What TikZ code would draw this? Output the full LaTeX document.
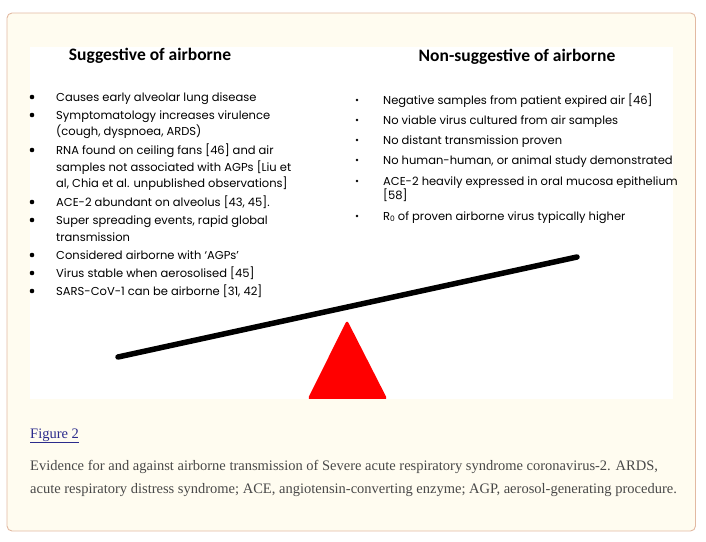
\documentclass[tikz,border=0pt]{standalone}
\usepackage{fontspec}
\setmainfont{Liberation Serif}
\newfontfamily\headfont{Carlito}
\newfontfamily\listfont{Poppins}
\definecolor{boxedge}{HTML}{E2B9A2}
\definecolor{boxfill}{HTML}{FFFCF0}
\definecolor{linkblue}{HTML}{2B2B8C}
\definecolor{captiongray}{HTML}{484848}
\tikzset{
  heading/.style={font=\headfont\bfseries\fontsize{17.5}{20}\selectfont, inner sep=0pt},
  item/.style={anchor=base west, inner sep=0pt, font=\listfont\fontsize{11.5}{13}\selectfont},
  caption/.style={anchor=base west, inner sep=0pt, text=captiongray, font=\fontsize{14.5}{16}\selectfont}
}
\begin{document}
\begin{tikzpicture}[x=1pt, y=-1pt]
    \useasboundingbox (0,0) rectangle (706,541);
    \draw[boxedge, line width=0.9pt, fill=boxfill, rounded corners=5pt] (7,13) rectangle (695.5,531);
    \fill[white] (30,47) rectangle (673,399);

    % left list
    \node[heading] (lefthead) at (150,56) {Suggestive of airborne};
    \foreach \y in {97,115,150,202,220,255,273,291}
        \fill (32,\y) circle [radius=2.3];
    \node[item] (l1) at (56,101) {Causes early alveolar lung disease};
    \node[item] (l2) at (56,119) {Symptomatology increases virulence};
    \node[item] (l2b) at (56,135) {(cough, dyspnoea, ARDS)};
    \node[item] (l3) at (56,154) {RNA found on ceiling fans [46] and air};
    \node[item] (l3b) at (56,171) {samples not associated with AGPs [Liu et};
    \node[item] (l3c) at (56,187) {al, Chia et al. unpublished observations]};
    \node[item] (l4) at (56,206) {ACE-2 abundant on alveolus [43, 45].};
    \node[item] (l5) at (56,224) {Super spreading events, rapid global};
    \node[item] (l5b) at (56,241) {transmission};
    \node[item] (l6) at (56,259) {Considered airborne with ‘AGPs’};
    \node[item] (l7) at (56,277) {Virus stable when aerosolised [45]};
    \node[item] (l8) at (56,295) {SARS-CoV-1 can be airborne [31, 42]};

    % right list
    \node[heading] (righthead) at (517,57) {Non-suggestive of airborne};
    \foreach \y in {100,120,140,160,181,216}
        \fill (357,\y) circle [radius=1.4];
    \node[item] (r1) at (383,104) {Negative samples from patient expired air [46]};
    \node[item] (r2) at (383,124) {No viable virus cultured from air samples};
    \node[item] (r3) at (383,144) {No distant transmission proven};
    \node[item] (r4) at (383,164) {No human-human, or animal study demonstrated};
    \node[item] (r5) at (383,185) {ACE-2 heavily expressed in oral mucosa epithelium};
    \node[item] (r5b) at (383,199) {[58]};
    \node[item] (r6) at (383,220) {R\raisebox{-0.25ex}{\fontsize{7.5}{8}\selectfont 0} of proven airborne virus typically higher};

    % seesaw
    \coordinate (beamleft) at (118,357);
    \coordinate (beamright) at (577,257);
    \draw[line width=5.5pt, line cap=round] (beamleft) -- (beamright);
    \fill[red, rounded corners=3pt] (347,320) -- (387.5,399.5) -- (307.5,399.5) -- cycle;
    \fill[boxfill] (300,399) rectangle (395,403);

    % caption
    \node[caption, text=linkblue] (figlabel) at (30,438) {\underline{Figure 2}};
    \node[caption] (cap1) at (30,470) {Evidence for and against airborne transmission of Severe acute respiratory syndrome coronavirus-2. ARDS,};
    \node[caption] (cap2) at (30,493) {acute respiratory distress syndrome; ACE, angiotensin-converting enzyme; AGP, aerosol-generating procedure.};
\end{tikzpicture}
\end{document}
